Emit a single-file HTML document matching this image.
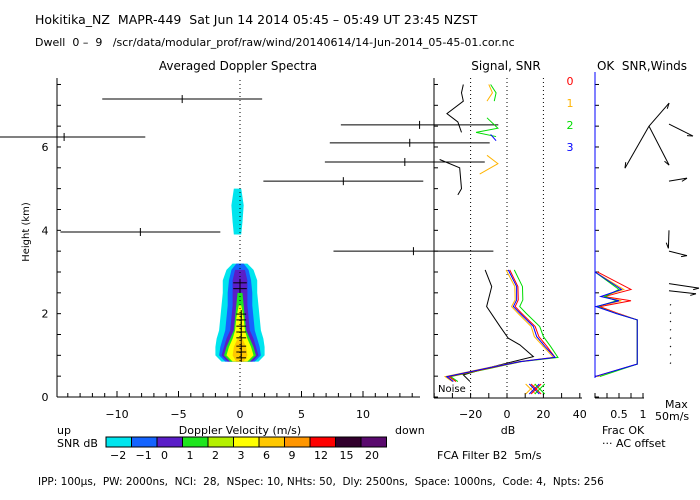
<!DOCTYPE html>
<html><head><meta charset="utf-8"><style>
body{margin:0;background:#fff;width:700px;height:500px;overflow:hidden}
svg{display:block;font-family:"DejaVu Sans","Liberation Sans",sans-serif}
text{font-size:11px;fill:#000;white-space:pre}
</style></head><body>
<svg id="c" width="700" height="500" xml:space="preserve" xmlns="http://www.w3.org/2000/svg">
<text x="35" y="24" style="font-size:12.5px">Hokitika_NZ  MAPR-449  Sat Jun 14 2014 05:45 – 05:49 UT 23:45 NZST</text>
<text x="35" y="46" style="font-size:11px">Dwell  0 –  9   /scr/data/modular_prof/raw/wind/20140614/14-Jun-2014_05-45-01.cor.nc</text>
<text x="238" y="70" text-anchor="middle" style="font-size:12px">Averaged Doppler Spectra</text>
<text x="506" y="70" text-anchor="middle" style="font-size:12px">Signal, SNR</text>
<text x="642" y="70" text-anchor="middle" style="font-size:12px">OK  SNR,Winds</text>
<text transform="translate(29,232) rotate(-90)" text-anchor="middle" style="font-size:10px">Height (km)</text>
<text x="240" y="434" text-anchor="middle" style="font-size:11px">Doppler Velocity (m/s)</text>
<text x="57" y="434">up</text>
<text x="395" y="434">down</text>
<text x="57" y="447">SNR dB</text>
<text x="508" y="434" text-anchor="middle">dB</text>
<text x="437" y="459">FCA Filter B2  5m/s</text>
<text x="602" y="434">Frac OK</text>
<text x="602" y="447">··· AC offset</text>
<text x="665" y="408">Max</text>
<text x="655" y="420">50m/s</text>
<text x="38" y="485" style="font-size:10.5px">IPP: 100μs,  PW: 2000ns,  NCI:  28,  NSpec: 10, NHts: 50,  Dly: 2500ns,  Space: 1000ns,  Code: 4,  Npts: 256</text>
<text x="438" y="392" style="font-size:10px">Noise</text>
<g id="g"></g>
</svg>
<script>
// ---- data ----
const heightTicks=[0,2,4,6];
const velTicks=[-10,-5,0,5,10];
const dbTicks=[-20,0,20,40];
const fracTicks=[0.5,1];
const barH=[7.15,6.24,6.53,6.1,5.64,5.18,3.96,3.5];
const barV=[-4.7,-14.3,14.6,13.8,13.4,8.4,-8.1,14.1];
const barHW=[6.5,6.6,6.4,6.5,6.5,6.5,6.5,6.5];
const sbarH=[2.74,2.6,1.99,1.85,1.7,1.56,1.42,1.22,1.08,0.94];
const sbarV=[0,0,0.1,0.1,0.1,0.1,0.1,0.1,0.1,0.1];
const blobH=[3.2,3.05,2.8,2.5,2.2,1.9,1.6,1.4,1.2,1.0,0.85];
const hwCyan=[0.6,1.1,1.4,1.4,1.5,1.6,1.7,1.9,2.0,2.0,1.5];
const hwBlue=[0.3,0.7,0.9,1.0,1.0,1.1,1.2,1.4,1.6,1.7,1.2];
const hwPurple=[0,0.4,0.6,0.6,0.6,0.7,0.8,1.1,1.3,1.5,1.0];
const hwGreen=[0,0,0,0.2,0.3,0.4,0.5,0.8,1.1,1.3,0.8];
const hwYellow=[0,0,0,0,0.1,0.3,0.4,0.6,0.9,1.1,0.6];
const hwOrange=[0,0,0,0,0,0,0,0.2,0.5,0.6,0.3];
const topH=[5.0,4.6,4.2,3.9];
const topHW=[0.3,0.5,0.4,0.3];
const cbLabels=["-2","-1","0","1","2","3","6","9","12","15","20"];
const cbColors=["#00e5ee","#1464ff","#5a1ec8","#1ee61e","#b4f000","#ffff00","#ffc800","#ff9600","#ff0000","#32002d","#5a0a6e"];
const sigH=[3.05,2.65,2.17,1.69,1.41,1.25,0.97,0.81,0.69,0.53,0.37];
const sigDb=[-12,-8.4,-11.2,-3.8,0.7,7.1,14.5,-0.2,-11.2,-24,-20.3];
const snrH=[3.05,2.65,2.33,2.17,2.01,1.69,1.45,1.21,0.95,0.85,0.69,0.49,0.37];
const snrBlue=[0.7,5.3,5.3,3.5,7.1,14.5,16.3,20.9,26.4,7.1,-11.2,-33.1,-29.5];
const snrRed=[1.5,6.0,6.2,4.5,8.0,15.5,17.5,22,26.4,7.5,-10,-32,-28];
const snrOrange=[-0.5,4.3,4.5,2.5,6.0,13.3,15.0,20,25.5,6.5,-12,-34,-30];
const snrGreen=[4.0,8.5,8.7,7.0,10.5,18.0,20.0,24.0,28.0,8.0,-9,-31,-27];
const upSigH=[7.5,7.3,7.1,6.8,6.6,6.35];
const upSigDb=[-24,-25,-24,-33,-27,-25];
const upSig2H=[5.7,5.5,5.0,4.85];
const upSig2Db=[-37,-26,-25,-27];
const fracH=[3.0,2.58,2.41,2.31,2.17,2.0,1.85,0.79,0.49];
const fracBlue=[0,0.55,0.12,0.5,0.02,0.45,0.88,0.88,0];
const fracRed=[0.05,0.75,0.2,0.75,0.1,0.5,0.88,0.88,0];
const fracOrange=[0,0.6,0.15,0.55,0.03,0.47,0.88,0.88,0.05];
const fracGreen=[0,0.5,0.2,0.45,0.05,0.45,0.88,0.88,0.1];
const windH=[6.5,6.5,6.5,6.55,5.18,4.0,3.5,2.72,2.55];
const windU=[6.7,-8,6.7,8,6,-0.2,6,10,9];
const windV=[7.7,-14,-13,-4,1,-6,-1.5,-1.5,-1];
const windGroup=[0,0,0,1,1,1,1,1,1];
// ---- scales ----
const H0=397,PXKM=41.67;
const y=h=>H0-h*PXKM;
const xv=v=>240+v*12.3;
const xd=d=>507+d*1.82;
const xf=f=>595+f*48;
const g=document.getElementById('g');
const NS='http://www.w3.org/2000/svg';
function mk(t,a){const e=document.createElementNS(NS,t);for(const k in a)e.setAttribute(k,a[k]);g.appendChild(e);return e;}
function line(x1,y1,x2,y2,st,w,dash){return mk('line',{x1,y1,x2,y2,stroke:st||'#000','stroke-width':w||1,'stroke-dasharray':dash||'none'});}
function txt(x,yy,s,anc){const e=mk('text',{x,y:yy,'text-anchor':anc||'middle'});e.textContent=s;return e;}
function blob(hw,col,name,c0){
  const L=[],R=[];
  for(let i=0;i<blobH.length;i++){if(hw[i]<=0)continue;L.push(xv(c0-hw[i])+','+y(blobH[i]));R.unshift(xv(c0+hw[i])+','+y(blobH[i]));}
  if(!L.length)return;
  const p=mk('polygon',{points:L.concat(R).join(' '),fill:col});
  
  
}
blob(hwCyan,cbColors[0],'snr-contour-cyan',0);
blob(hwBlue,cbColors[1],'snr-contour-blue',0);
blob(hwPurple,cbColors[2],'snr-contour-purple',0);
blob(hwGreen,cbColors[3],'snr-contour-green',0);
blob(hwYellow,cbColors[5],'snr-contour-yellow',0);
blob(hwOrange,cbColors[6],'snr-contour-orange',0);
{const L=[],R=[];for(let i=0;i<topH.length;i++){L.push(xv(-0.2-topHW[i])+','+y(topH[i]));R.unshift(xv(-0.2+topHW[i])+','+y(topH[i]));}
const p=mk('polygon',{points:L.concat(R).join(' '),fill:cbColors[0]});

}
line(240,80,240,397,'#000',1,'1,3');
line(57,78,57,397);line(57,397,420,397);
for(let h=0;h<=7.5;h+=0.5){line(57,y(h),61,y(h));}
heightTicks.forEach(h=>{const t=txt(45,y(h)+4,String(h));});
for(let v=-14;v<=14;v++){line(xv(v),397,xv(v),v%5==0?391:393);}
velTicks.forEach(v=>{const t=txt(xv(v),418,v<0?'−'+(-v):String(v));});
for(let i=0;i<barH.length;i++){
  const yy=y(barH[i]);
  const l=line(xv(barV[i]-barHW[i]),yy,xv(barV[i]+barHW[i]),yy);
  
  
  line(xv(barV[i]),yy-4,xv(barV[i]),yy+4);
}
for(let i=0;i<sbarH.length;i++){
  const yy=y(sbarH[i]),hw=i<2?0.55:0.4;
  const l=line(xv(sbarV[i]-hw),yy,xv(sbarV[i]+hw),yy);
  
  
  line(xv(sbarV[i]),yy-4,xv(sbarV[i]),yy+4);
}
for(let i=0;i<cbColors.length;i++){
  const r=mk('rect',{x:106+i*25.5,y:437,width:25.5,height:10,fill:cbColors[i],stroke:'#000','stroke-width':1});
  
  
  const t=txt(106+i*25.5+4,459,cbLabels[i].replace('-','−'),'start');
  
  
}
line(434,78,434,398);line(434,398,582,398);
for(let h=0;h<=7.5;h+=0.5){line(434,y(h),438,y(h));}
for(let d=-40;d<=40;d+=10){line(xd(d),398,xd(d),393);}
dbTicks.forEach(d=>{const t=txt(xd(d),418,d<0?'−'+(-d):String(d));});
[-20,0,20].forEach(d=>line(xd(d),78,xd(d),397,'#000',1,'1,3'));
function pl(hs,vals,sx,col,name){
  const p=mk('polyline',{points:hs.map((h,i)=>sx(vals[i])+','+y(h)).join(' '),fill:'none',stroke:col,'stroke-width':1});
  
  
}
pl(sigH,sigDb,xd,'#000','signal-line');
pl(upSigH,upSigDb,xd,'#000','signal-line-upper');
pl(upSig2H,upSig2Db,xd,'#000','signal-line-upper-2');
pl(snrH,snrGreen,xd,'#00dd00','snr-line-2');
pl(snrH,snrOrange,xd,'#ffb400','snr-line-1');
pl(snrH,snrRed,xd,'#ff0000','snr-line-0');
pl(snrH,snrBlue,xd,'#0000ff','snr-line-3');
pl([7.5,7.3,7.1],[-10,-8,-11],xd,'#ffb400','snr-upper-1');
pl([7.5,7.3,7.1],[-9,-6,-7],xd,'#00dd00','snr-upper-2');
pl([6.7,6.45,6.35,6.25],[-11,-5,-17,-6],xd,'#00dd00','snr-upper-2b');
pl([5.35,5.6,5.8],[-15,-5,-11],xd,'#ffb400','snr-upper-1b');
pl([6.3,6.15],[-9,-6],xd,'#0000ff','snr-upper-3');
[['#ffb400',-2],['#0000ff',0],['#ff0000',1],['#00dd00',3]].forEach(([c,o])=>{const cx=xd(15+o),cy=389;line(cx-5,cy-5,cx+5,cy+5,c);line(cx-5,cy+5,cx+5,cy-5,c);});
[['0','#ff0000'],['1','#ffb400'],['2','#00dd00'],['3','#0000ff']].forEach(([s,c],i)=>{const t=txt(570,85+i*22,s);t.setAttribute('fill',c);t.style.fill=c;});
line(595,398,644,398);
for(let h=0;h<=7.5;h+=0.5){line(595,y(h),599,y(h));}
for(let f=0;f<=1;f+=0.25){line(xf(f),398,xf(f),393);}
fracTicks.forEach(f=>{const t=txt(xf(f),418,String(f));});
pl(fracH,fracRed,xf,'#ff0000','frac-line-0');
pl(fracH,fracOrange,xf,'#ffb400','frac-line-1');
pl(fracH,fracGreen,xf,'#00dd00','frac-line-2');
pl(fracH,fracBlue,xf,'#0000ff','frac-line-3');
line(595,72,595,378,'#0000ff');
for(let i=0;i<windH.length;i++){
  const x0=windGroup[i]?669:649,y0=y(windH[i]),x1=x0+windU[i]*3,y1=y0-windV[i]*3;
  const l=line(x0,y0,x1,y1);
  
  
  const a=Math.atan2(y1-y0,x1-x0);
  line(x1,y1,x1-6*Math.cos(a-0.4),y1-6*Math.sin(a-0.4));
}
for(let h=0.8;h<=2.2;h+=0.2){line(670,y(h),671,y(h)-1);}
</script>
</body></html>
